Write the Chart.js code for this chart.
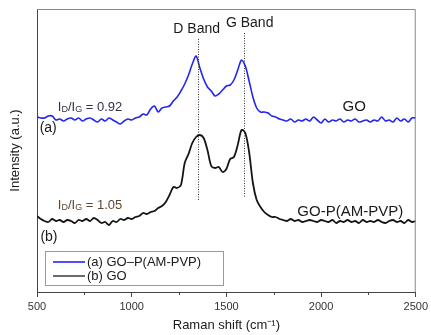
<!DOCTYPE html>
<html>
<head>
<meta charset="utf-8">
<script src="https://cdn.jsdelivr.net/npm/chart.js@4.4.0/dist/chart.umd.min.js"></script>
<style>
  html, body { margin: 0; padding: 0; background: #fff; }
</style>
</head>
<body>
<canvas id="myChart" width="431" height="335"></canvas>
<script>
// Raman shift (cm-1)
const shift = [
  500, 520, 540, 560, 580, 600, 620, 640, 660, 680, 700, 720, 740, 760, 780, 800, 820, 840, 860, 880,
  900, 920, 940, 960, 980, 1000, 1020, 1040, 1060, 1080, 1100, 1120, 1140, 1160, 1180, 1200, 1220, 1240, 1260, 1280,
  1300, 1320, 1340, 1360, 1380, 1400, 1420, 1440, 1460, 1480, 1500, 1520, 1540, 1560, 1580, 1600, 1620, 1640, 1660, 1680,
  1700, 1720, 1740, 1760, 1780, 1800, 1820, 1840, 1860, 1880, 1900, 1920, 1940, 1960, 1980, 2000, 2020, 2040, 2060, 2080,
  2100, 2120, 2140, 2160, 2180, 2200, 2220, 2240, 2260, 2280, 2300, 2320, 2340, 2360, 2380, 2400, 2420, 2440, 2460, 2480,
  2500
];

// (a) blue trace, intensity (a.u.)
const traceA = [
  175, 174, 174, 176, 176, 172, 173, 171, 173, 174, 172, 174, 171, 173, 174, 172, 170, 173, 171, 174,
  172, 170, 168, 171, 173, 172, 174, 175, 178, 177, 183, 186, 180, 184, 185, 186, 191, 195, 201, 208,
  217, 228, 236, 224, 213, 205, 201, 196, 198, 202, 206, 207, 212, 222, 232, 226, 211, 195, 184, 180,
  180, 179, 176, 175, 173, 172, 171, 173, 170, 172, 171, 173, 171, 175, 172, 169, 173, 170, 172, 171,
  173, 170, 172, 171, 173, 170, 171, 172, 170, 172, 171, 175, 171, 172, 170, 174, 171, 173, 170, 174,
  174
];

// (b) black trace, intensity (a.u.)
const traceB = [
  76, 73, 71, 70, 73, 71, 72, 70, 72, 71, 69, 72, 71, 73, 71, 74, 72, 69, 70, 67,
  71, 70, 73, 72, 74, 73, 75, 76, 79, 78, 80, 81, 84, 86, 90, 97, 105, 104, 107, 129,
  138, 149, 155, 157, 154, 142, 126, 124, 125, 120, 123, 133, 135, 147, 162, 159, 140, 109, 92, 85,
  80, 77, 75, 75, 73, 72, 71, 73, 71, 72, 70, 71, 72, 71, 70, 72, 71, 70, 72, 69,
  71, 70, 72, 70, 71, 69, 72, 70, 71, 70, 72, 70, 69, 71, 72, 70, 71, 69, 72, 70,
  71
];

const seriesNames = ['(a) GO\u2013P(AM-PVP)', '(b) GO'];
const minorTicks = [750, 1250, 1750, 2250];

// band markers: position, top and bottom of dotted line
const bandNames = ['D Band', 'G Band'];
const bandShift = [1350, 1592];
const bandTop = [253, 259];
const bandBottom = [91, 94];

const ratioText = ['0.92', '1.05'];
const curveNames = ['GO', 'GO-P(AM-PVP)'];

const BLUE = '#2424f2';
const BLACK = '#151515';
const FONT = '"Liberation Sans", Arial, sans-serif';

function ratioLabel(ctx, x, y, value, color) {
  ctx.save();
  ctx.fillStyle = color;
  ctx.textBaseline = 'middle';
  ctx.textAlign = 'left';
  const big = '13px ' + FONT, small = '9px ' + FONT;
  const parts = [['I', big, 0], ['D', small, 3], ['/I', big, 0], ['G', small, 3], [' = ' + value, big, 0]];
  parts.forEach(p => {
    ctx.font = p[1];
    ctx.fillText(p[0], x, y + p[2]);
    x += ctx.measureText(p[0]).width;
  });
  ctx.restore();
}

const extras = {
  id: 'extras',
  afterDatasetsDraw(chart) {
    const { ctx, chartArea: a, scales: { x, y } } = chart;
    ctx.save();

    // frame top/right
    ctx.strokeStyle = '#8a8a8a';
    ctx.lineWidth = 1;
    ctx.beginPath();
    ctx.moveTo(a.left, a.top + 0.5);
    ctx.lineTo(a.right - 0.5, a.top + 0.5);
    ctx.lineTo(a.right - 0.5, a.bottom);
    ctx.stroke();

    // minor ticks
    ctx.strokeStyle = '#444';
    ctx.beginPath();
    minorTicks.forEach(v => {
      const px = Math.round(x.getPixelForValue(v)) + 0.5;
      ctx.moveTo(px, a.bottom);
      ctx.lineTo(px, a.bottom + 3);
    });
    ctx.stroke();

    // dotted band lines + labels
    ctx.strokeStyle = '#333';
    ctx.setLineDash([1, 1.5]);
    bandShift.forEach((v, i) => {
      const px = Math.round(x.getPixelForValue(v)) + 0.5;
      ctx.beginPath();
      ctx.moveTo(px, y.getPixelForValue(bandTop[i]));
      ctx.lineTo(px, y.getPixelForValue(bandBottom[i]));
      ctx.stroke();
    });
    ctx.setLineDash([]);

    ctx.fillStyle = '#1a1a1a';
    ctx.font = '14px ' + FONT;
    ctx.textAlign = 'center';
    ctx.textBaseline = 'middle';
    ctx.fillText(bandNames[0], x.getPixelForValue(1343), y.getPixelForValue(263));
    ctx.fillText(bandNames[1], x.getPixelForValue(1623), y.getPixelForValue(269));

    // curve names
    ctx.font = '15px ' + FONT;
    ctx.fillText(curveNames[0], x.getPixelForValue(2175), y.getPixelForValue(185));
    ctx.fillText(curveNames[1], x.getPixelForValue(2154), y.getPixelForValue(80));

    // (a) (b)
    ctx.textAlign = 'left';
    ctx.font = '14px ' + FONT;
    ctx.fillText('(a)', x.getPixelForValue(514), y.getPixelForValue(164));
    ctx.fillText('(b)', x.getPixelForValue(518), y.getPixelForValue(55));

    ratioLabel(ctx, x.getPixelForValue(610), y.getPixelForValue(185), ratioText[0], '#33334a');
    ratioLabel(ctx, x.getPixelForValue(610), y.getPixelForValue(87), ratioText[1], '#5e4630');

    // legend box
    const lx = a.left + 8, ly = a.bottom - 41;
    ctx.strokeStyle = '#9a9a9a';
    ctx.lineWidth = 1;
    ctx.strokeRect(lx + 0.5, ly + 0.5, 178, 34);
    ctx.font = '13px ' + FONT;
    ctx.fillStyle = '#1a1a1a';
    const cols = [BLUE, '#444'];
    seriesNames.forEach((name, i) => {
      const ry = ly + 11 + i * 14;
      ctx.strokeStyle = cols[i];
      ctx.lineWidth = 1.6;
      ctx.beginPath();
      ctx.moveTo(lx + 8, ry);
      ctx.lineTo(lx + 40, ry);
      ctx.stroke();
      ctx.fillText(name, lx + 42, ry);
    });

    ctx.restore();
  }
};

const ctx = document.getElementById('myChart').getContext('2d');
new Chart(ctx, {
  type: 'line',
  data: {
    datasets: [
      {
        label: seriesNames[0],
        data: shift.map((s, i) => ({ x: s, y: traceA[i] })),
        borderColor: BLUE,
        borderWidth: 1.6,
        pointRadius: 0,
        tension: 0.3
      },
      {
        label: seriesNames[1],
        data: shift.map((s, i) => ({ x: s, y: traceB[i] })),
        borderColor: BLACK,
        borderWidth: 1.8,
        pointRadius: 0,
        tension: 0.3
      }
    ]
  },
  options: {
    responsive: false,
    animation: false,
    layout: { padding: { top: 9, right: 13, left: 0, bottom: 0 } },
    plugins: {
      legend: { display: false },
      tooltip: { enabled: false }
    },
    scales: {
      x: {
        type: 'linear',
        min: 500,
        max: 2500,
        afterFit: s => { s.height = 43; },
        ticks: {
          stepSize: 500,
          color: '#333',
          padding: 3,
          maxRotation: 0,
          font: { family: FONT, size: 11 },
          callback: v => String(v)
        },
        grid: { display: true, drawOnChartArea: false, tickLength: 5, color: '#444' },
        border: { display: true, color: '#444', width: 1 },
        title: {
          display: true,
          text: 'Raman shift (cm\u207B\u00B9)',
          color: '#1a1a1a',
          font: { family: FONT, size: 13 },
          padding: { top: 0, bottom: 2 }
        }
      },
      y: {
        min: 0,
        max: 283,
        afterFit: s => { s.width = 37; },
        ticks: { display: false },
        grid: { display: false },
        border: { display: true, color: '#444', width: 1 },
        title: {
          display: true,
          text: 'Intensity (a.u.)',
          color: '#1a1a1a',
          font: { family: FONT, size: 13 },
          padding: { top: 8, bottom: 0 }
        }
      }
    }
  },
  plugins: [extras]
});
</script>
</body>
</html>
